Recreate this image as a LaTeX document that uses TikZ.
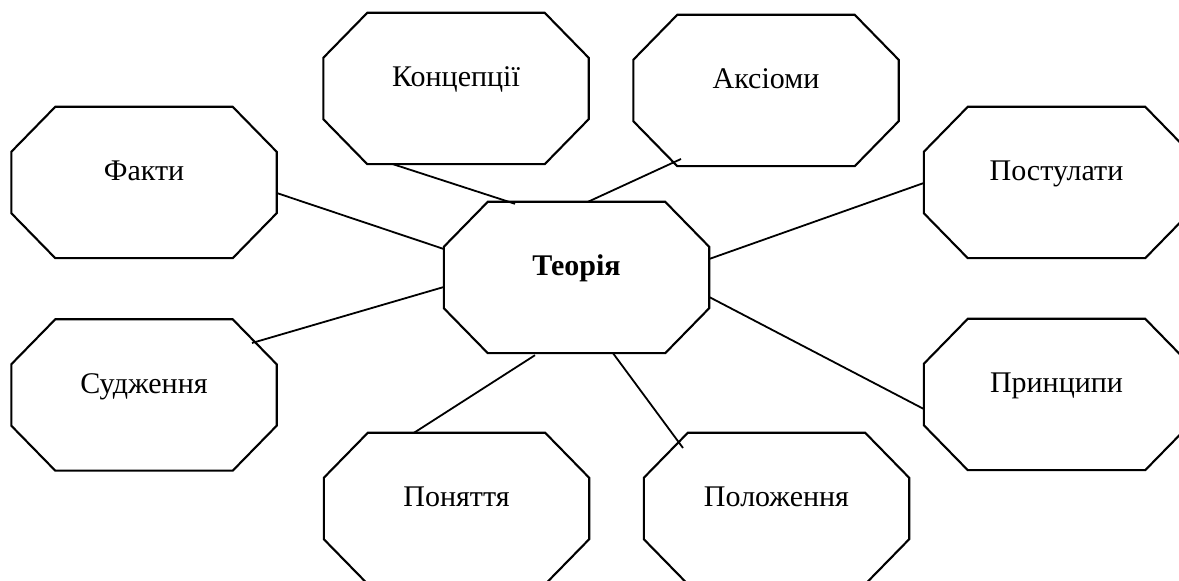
\documentclass[tikz,border=0pt]{standalone}
\usepackage{fontspec}
\setmainfont{Liberation Serif}
\usetikzlibrary{calc}

\tikzset{
  octbox/.style={rectangle, draw=none, inner sep=0pt,
                 minimum width=265pt, minimum height=151pt},
  octline/.style={line width=2.1pt, line join=miter},
  lbl/.style={anchor=base, inner sep=0pt, font=\fontsize{30}{36}\selectfont},
  link/.style={line width=1.8pt},
}

% Octagonal frame drawn around a named box node
\newcommand\octframe[1]{%
  \draw[octline]
    ($(#1.north west)+(44,0)$) -- ($(#1.north east)+(-44,0)$) --
    ($(#1.north east)+(0,-45)$) -- ($(#1.south east)+(0,45)$) --
    ($(#1.south east)+(-44,0)$) -- ($(#1.south west)+(44,0)$) --
    ($(#1.south west)+(0,45)$) -- ($(#1.north west)+(0,-45)$) -- cycle;}

\begin{document}
\begin{tikzpicture}[x=1pt,y=1pt]
  \useasboundingbox (0,0) rectangle (1179,581);
  \clip (0,0) rectangle (1179,581);

  % boxes
  \node[octbox] (k)  at (456,492.5)    {};
  \node[octbox] (a)  at (766,490.5)    {};
  \node[octbox] (f)  at (144,398.5)    {};
  \node[octbox] (p)  at (1056.5,398.5) {};
  \node[octbox] (t)  at (576.5,303.5)  {};
  \node[octbox] (s)  at (144,186)      {};
  \node[octbox] (pr) at (1056.5,186.5) {};
  \node[octbox] (pn) at (456.5,72.5)   {};
  \node[octbox] (pl) at (776.5,72.5)   {};

  \foreach \n in {k,a,f,p,t,s,pr,pn,pl} {\octframe{\n}}

  % labels
  \node[lbl] (k-l)  at ($(k.center)+(0,1.5)$)  {Концепції};
  \node[lbl] (a-l)  at ($(a.center)+(0,1.5)$)  {Аксіоми};
  \node[lbl] (f-l)  at ($(f.center)+(0,1.5)$)  {Факти};
  \node[lbl] (p-l)  at ($(p.center)+(0,1.5)$)  {Постулати};
  \node[lbl] (t-l)  at ($(t.center)+(0,1.5)$)  {\bfseries Теорія};
  \node[lbl] (s-l)  at ($(s.center)+(0,1.5)$)  {Судження};
  \node[lbl] (pr-l) at ($(pr.center)+(0,1.5)$) {Принципи};
  \node[lbl] (pn-l) at ($(pn.center)+(0,1.5)$) {Поняття};
  \node[lbl] (pl-l) at ($(pl.center)+(0,1.5)$) {Положення};

  % connectors to the central box
  \draw[link] ($(k.south)+(-63,0)$)    -- ($(t.north)+(-61.5,-2)$);
  \draw[link] ($(a.center)+(-85,-68.5)$) -- ($(t.north)+(11.5,0)$);
  \draw[link] ($(f.east)+(0,-10.5)$)   -- ($(t.west)+(0,28.5)$);
  \draw[link] ($(s.center)+(108,52)$)  -- ($(t.west)+(0,-9.5)$);
  \draw[link] ($(p.west)+(0,-0.5)$)    -- ($(t.east)+(0,18.5)$);
  \draw[link] ($(pr.west)+(0,-14.5)$)  -- ($(t.east)+(0,-19.5)$);
  \draw[link] ($(pn.north)+(-42.5,0)$) -- ($(t.south)+(-41.5,-2)$);
  \draw[link] ($(t.south)+(36.5,0)$)   -- ($(pl.center)+(-93.5,60.5)$);
\end{tikzpicture}
\end{document}
